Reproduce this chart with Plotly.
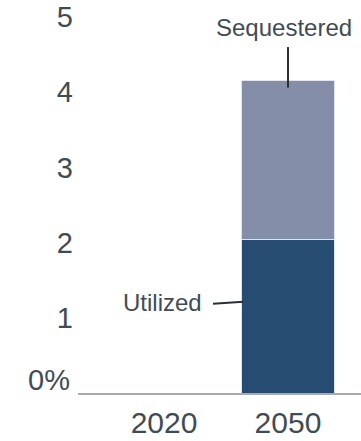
import plotly.graph_objects as go

# Share of CO2 captured, by use, 2020 vs 2050
years = ["2020", "2050"]
utilized = [0, 2.04]
sequestered = [0, 2.11]
y_ticks = [1, 2, 3, 4, 5]
y_tick_labels = ["1", "2", "3", "4", "5"]

text_color = "#3f4c55"
font_family = "Liberation Sans, Arial, Helvetica, sans-serif"

fig = go.Figure()
fig.add_trace(go.Bar(
    x=[0, 1], y=utilized, name="Utilized", width=0.758,
    marker=dict(color="#264c72", line=dict(color="#dfe3ea", width=1)),
))
fig.add_trace(go.Bar(
    x=[0, 1], y=sequestered, name="Sequestered", width=0.758,
    marker=dict(color="#858ea9", line=dict(color="#dfe3ea", width=1)),
))

# Leader lines for the series labels
fig.add_shape(type="line", xref="x", yref="y", x0=1.0, x1=1.0, y0=4.6, y1=4.06,
              line=dict(color="#2a2f33", width=2))
fig.add_shape(type="line", xref="x", yref="y", x0=0.395, x1=0.64, y0=1.186, y1=1.213,
              line=dict(color="#2a2f33", width=2))

fig.add_annotation(x=0.968, y=4.86, xref="x", yref="y", text="Sequestered",
                   showarrow=False, font=dict(size=24, color=text_color, family=font_family))
fig.add_annotation(x=-0.016, y=1.2, xref="x", yref="y", text="Utilized",
                   showarrow=False, font=dict(size=24, color=text_color, family=font_family))
# Zero label sits a little above the baseline
fig.add_annotation(x=0, y=0, xref="paper", yref="y", text="0%", xanchor="right",
                   yanchor="middle", xshift=-6, yshift=13, showarrow=False,
                   font=dict(size=29, color=text_color, family=font_family))

fig.update_layout(
    width=361, height=441,
    margin=dict(l=78, r=0, t=0, b=48),
    barmode="stack", showlegend=False,
    plot_bgcolor="white", paper_bgcolor="white",
    font=dict(family=font_family, color=text_color),
)
fig.update_xaxes(
    type="linear", range=[-0.694, 1.589], tickvals=[0, 1], ticktext=years,
    showgrid=False, zeroline=False, showline=True, linecolor="#a9abb3", linewidth=2,
    ticks="", tickfont=dict(size=30, color=text_color), ticklabelstandoff=2,
    automargin=False,
)
fig.update_yaxes(
    range=[0, 5.226], tickvals=y_ticks, ticktext=y_tick_labels,
    showgrid=False, zeroline=False, showline=False,
    ticks="", tickfont=dict(size=29, color=text_color), ticklabelstandoff=4,
    automargin=False,
)

fig.write_html("out.html")
